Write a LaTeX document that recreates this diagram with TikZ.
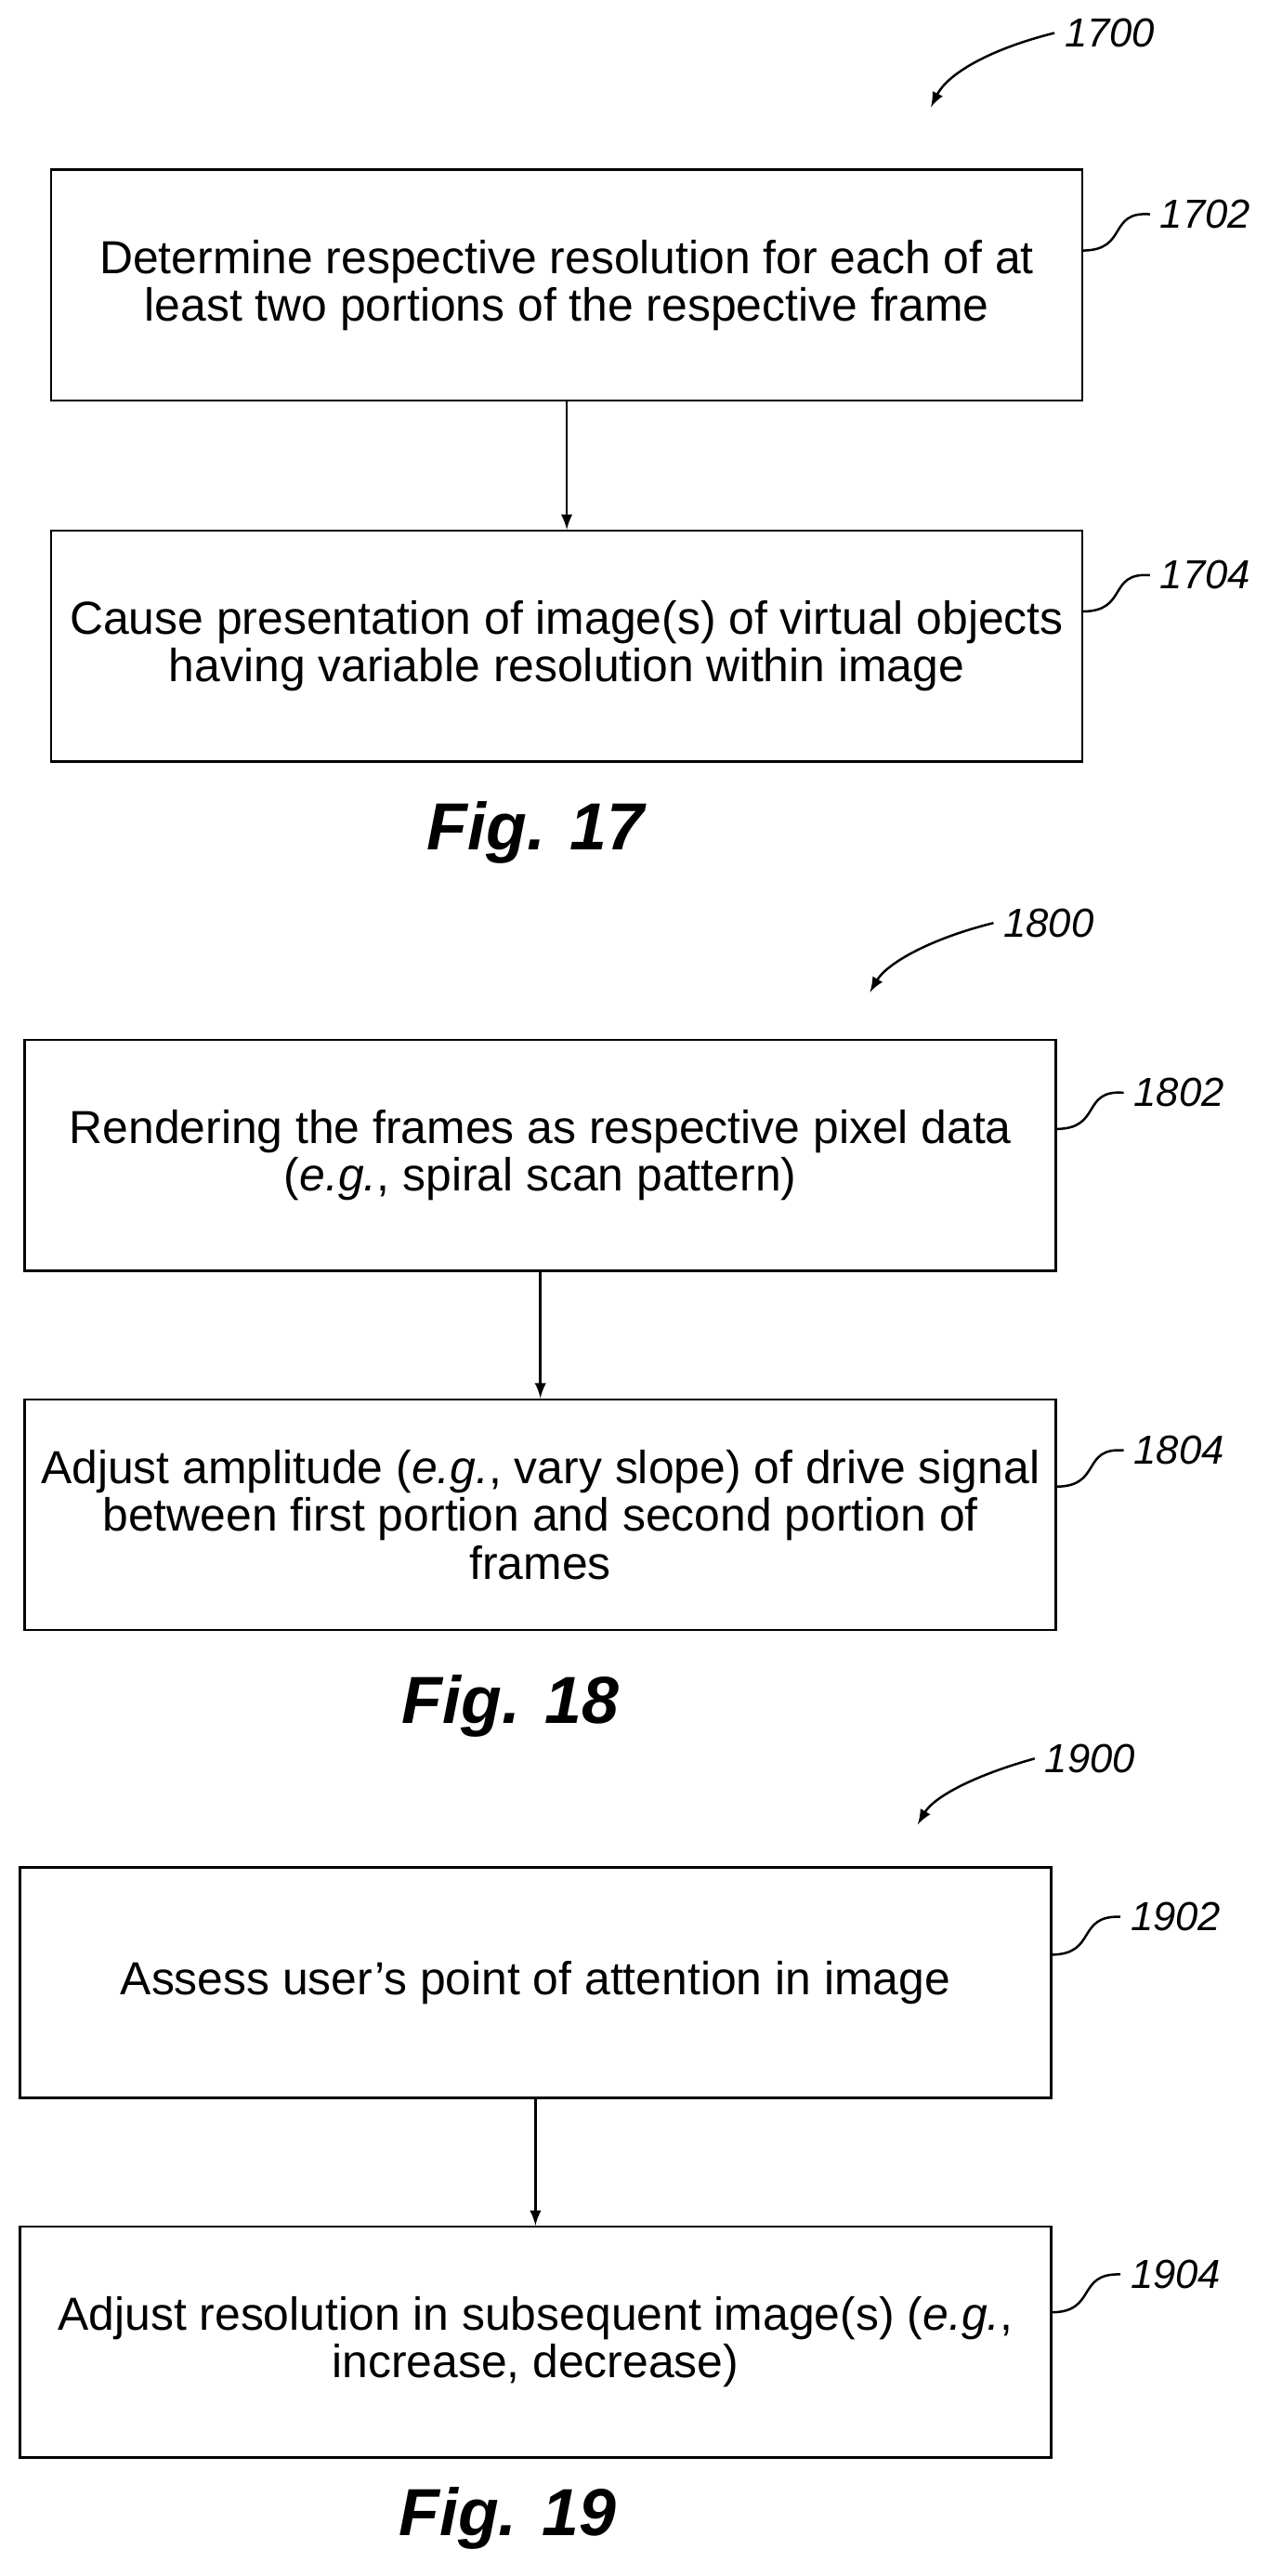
\documentclass[tikz,border=0pt]{standalone}
\usepackage{fontspec}
\setmainfont{Liberation Sans}
\tikzset{>=latex}
\usetikzlibrary{positioning}
\begin{document}
\begin{tikzpicture}[x=0.02cm,y=-0.02cm,
  flowbox/.style={draw,thick,minimum width=12.52cm,minimum height=2.8cm,align=center,
    font=\fontsize{16}{16.5}\selectfont,inner sep=2pt},
  ref/.style={font=\fontsize{14}{16}\selectfont\itshape},
  fig/.style={font=\fontsize{23}{27}\selectfont\bfseries\itshape}]
  \useasboundingbox (0,0) rectangle (770,1563);

  % FIG. 17
  \node[flowbox] (s1702) at (344,173) {Determine respective resolution for each of at\\least two portions of the respective frame};
  \node[flowbox] (s1704) at (344,392) {Cause presentation of image(s) of virtual objects\\having variable resolution within image};
  \draw[->,thick] (s1702) -- (s1704);
  \node[ref,anchor=west] (l1702) at (698,130) {1702};
  \draw[thick] (657,152) .. controls (685,152) and (672,128) .. (l1702.west);
  \node[ref,anchor=west] (l1704) at (698,349) {1704};
  \draw[thick] (657,371) .. controls (685,371) and (672,347) .. (l1704.west);
  \node[ref,anchor=west] (l1700) at (640,20) {1700};
  \coordinate (e1700) at (565,65);
  \draw[->,thick] (l1700.west) .. controls (600,30) and (575,45) .. (e1700);
  \node[fig] (f17) at (325,505) {Fig. 17};

  % FIG. 18
  \node[flowbox] (s1802) at (328,701) {Rendering the frames as respective pixel data\\(\textit{e.g.}, spiral scan pattern)};
  \node[flowbox] (s1804) at (328,919) {Adjust amplitude (\textit{e.g.}, vary slope) of drive signal\\between first portion and second portion of\\frames};
  \draw[->,thick] (s1802) -- (s1804);
  \node[ref,anchor=west] (l1802) at (682,663) {1802};
  \draw[thick] (641,685) .. controls (669,685) and (656,661) .. (l1802.west);
  \node[ref,anchor=west] (l1804) at (682,880) {1804};
  \draw[thick] (641,902) .. controls (669,902) and (656,878) .. (l1804.west);
  \node[ref,anchor=west] (l1800) at (603,560) {1800};
  \coordinate (e1800) at (528,602);
  \draw[->,thick] (l1800.west) .. controls (563,570) and (538,585) .. (e1800);
  \node[fig] (f18) at (310,1035) {Fig. 18};

  % FIG. 19
  \node[flowbox] (s1902) at (325,1203) {Assess user’s point of attention in image};
  \node[flowbox] (s1904) at (325,1421) {Adjust resolution in subsequent image(s) (\textit{e.g.},\\increase, decrease)};
  \draw[->,thick] (s1902) -- (s1904);
  \node[ref,anchor=west] (l1902) at (680,1163) {1902};
  \draw[thick] (638,1186) .. controls (666,1186) and (653,1162) .. (l1902.west);
  \node[ref,anchor=west] (l1904) at (680,1380) {1904};
  \draw[thick] (638,1403) .. controls (666,1403) and (653,1379) .. (l1904.west);
  \node[ref,anchor=west] (l1900) at (628,1067) {1900};
  \coordinate (e1900) at (557,1107);
  \draw[->,thick] (l1900.west) .. controls (592,1077) and (567,1090) .. (e1900);
  \node[fig] (f19) at (308,1528) {Fig. 19};
\end{tikzpicture}
\end{document}
